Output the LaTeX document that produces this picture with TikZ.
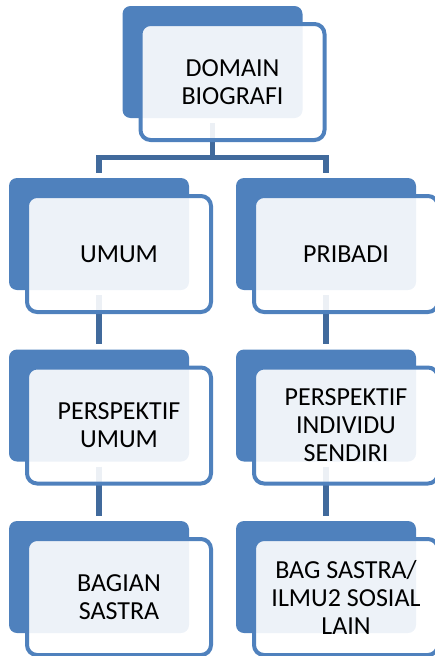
\documentclass[tikz,border=0pt]{standalone}
\usepackage{fontspec}
\setmainfont{Carlito}
\usepackage{tikz}
\usetikzlibrary{positioning,calc}

\definecolor{boxblue}{RGB}{79,129,189}
\definecolor{linkblue}{RGB}{65,106,156}

\begin{document}
\begin{tikzpicture}[x=1pt, y=1pt, node distance=171.5pt]
        \tikzstyle{backbox}=[fill=boxblue, rounded corners=8pt, minimum width=180pt, minimum height=112pt, inner sep=0pt]
        \tikzstyle{frontbox}=[draw=boxblue, line width=4pt, fill=white, fill opacity=0.9, text opacity=1, rounded corners=10pt, minimum width=184pt, minimum height=116pt, inner sep=0pt, align=center, font=\fontsize{26}{28}\selectfont, xshift=20pt, yshift=-20pt]
        \tikzstyle{link}=[draw=linkblue, line width=5.5pt, shorten <=5pt, shorten >=5pt]

        \useasboundingbox (0,0) rectangle (435,-656);
        \clip (0,0) rectangle (435,-656);

        % back boxes
        \node[backbox]  (dom)                         at (212.5,-62)  {};
        \node[backbox]  (umum)                        at (99,-234)    {};
        \node[backbox]  (prib)  [right of=umum, node distance=227pt]  {};
        \node[backbox]  (persu) [below of=umum]       {};
        \node[backbox]  (persi) [below of=prib]       {};
        \node[backbox]  (sastra)[below of=persu]      {};
        \node[backbox]  (ilmu)  [below of=persi]      {};

        % links
        \draw[link] (dom.south) -- ++(0,-39.5) -| (umum.north);
        \draw[link] (dom.south) -- ++(0,-39.5) -| (prib.north);
        \draw[link] (umum.south)  -- (persu.north);
        \draw[link] (persu.south) -- (sastra.north);
        \draw[link] (prib.south)  -- (persi.north);
        \draw[link] (persi.south) -- (ilmu.north);

        % front boxes
        \node[frontbox] (dom-t)    at (dom)    {DOMAIN\\BIOGRAFI};
        \node[frontbox] (umum-t)   at (umum)   {UMUM};
        \node[frontbox] (prib-t)   at (prib)   {PRIBADI};
        \node[frontbox] (persu-t)  at (persu)  {PERSPEKTIF\\UMUM};
        \node[frontbox] (persi-t)  at (persi)  {PERSPEKTIF\\INDIVIDU\\SENDIRI};
        \node[frontbox] (sastra-t) at (sastra) {BAGIAN\\SASTRA};
        \node[frontbox] (ilmu-t)   at (ilmu)   {BAG SASTRA/\\ILMU2 SOSIAL\\LAIN};
\end{tikzpicture}
\end{document}
